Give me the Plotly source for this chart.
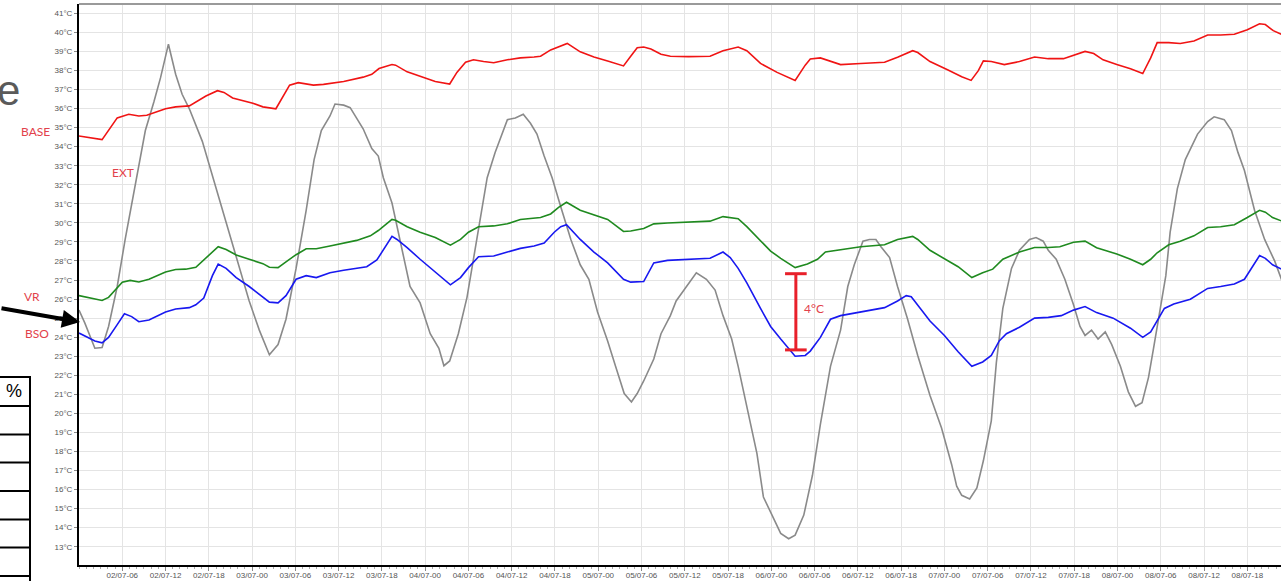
import numpy as np
import pandas as pd
import plotly.graph_objects as go

# Time origin of the record and visible window length (hours)
START = pd.Timestamp("2018-07-02 00:00")
END_H = 166.67

# BASE temperature (°C) against hours from start
base_h = [0, 3.2, 5.3, 6.9, 8.3, 9.4, 12, 13.4, 15.3, 17.6, 19.2, 20.1, 21.3, 24.1, 25.5, 27.3,
          29.2, 30.4, 32.5, 33.9, 36.7, 39.4, 40.6, 41.6, 43.4, 43.9, 45.5, 47.3, 49.4, 51.4,
          52.4, 53.6, 54.7, 56.1, 57.5, 59.4, 61.2, 63.1, 64, 65.4, 66.5, 67.7, 69.5, 71.4,
          73.3, 75.5, 76.5, 77.4, 78.3, 79.3, 80.7, 82, 84.5, 87.5, 89.3, 91.4, 92.6, 94.5,
          96.8, 99.3, 100.7, 101.4, 102.8, 104.2, 105.6, 108.4, 111.7, 113.5, 115.6, 116.3,
          118, 120.5, 122.4, 123.7, 124.7, 125.4, 126.5, 128.3, 130.4, 132.5, 134.4, 136.5,
          137.9, 139.5, 140.7, 142, 143.9, 145.8, 147.5, 148.6, 149.5, 151.1, 152.7, 154.6,
          156.5, 158.3, 160.2, 162, 163.7, 164.5, 165.6, 167.1]
base_t = [34.56, 34.37, 35.51, 35.70, 35.61, 35.65, 35.99, 36.09, 36.14, 36.66, 36.94, 36.85,
          36.56, 36.28, 36.09, 35.99, 37.23, 37.36, 37.23, 37.27, 37.42, 37.65, 37.80, 38.10,
          38.31, 38.28, 37.93, 37.70, 37.42, 37.29, 37.90, 38.43, 38.56, 38.47, 38.41, 38.56,
          38.66, 38.71, 38.75, 39.08, 39.23, 39.42, 38.98, 38.71, 38.50, 38.24, 38.75, 39.19,
          39.23, 39.13, 38.85, 38.75, 38.73, 38.75, 39.04, 39.23, 39.04, 38.37, 37.90, 37.48,
          38.28, 38.60, 38.66, 38.47, 38.31, 38.37, 38.43, 38.70, 39.04, 38.94, 38.47, 38.03,
          37.67, 37.48, 37.99, 38.50, 38.47, 38.31, 38.47, 38.71, 38.62, 38.62, 38.81, 39.00,
          38.89, 38.56, 38.31, 38.09, 37.84, 38.66, 39.46, 39.46, 39.42, 39.55, 39.86, 39.86,
          39.90, 40.14, 40.45, 40.41, 40.09, 39.84]

# VR temperature (°C)
vr_h = [0, 3.2, 4.1, 6.0, 7.1, 8.3, 9.7, 12, 13.4, 14.8, 16.2, 17.6, 19.3, 20.4, 21.8, 23.6,
        25.5, 26.4, 27.6, 28.7, 30.1, 31.5, 32.9, 34.8, 36.7, 38.5, 40.4, 41.5, 43.4, 43.9,
        45.5, 47.3, 49.4, 51.5, 52.9, 54.0, 55.4, 57.5, 59.4, 61.2, 64, 65.4, 66.5, 67.6, 69.5,
        71.4, 73.3, 75.5, 76.5, 78.3, 79.7, 81.6, 83.7, 87.5, 89.3, 91.4, 92.6, 94.5, 95.9,
        97.3, 99.3, 101, 102.4, 103.5, 105.6, 108.4, 111.7, 113.5, 115.6, 116.3, 118, 120,
        121.9, 123.8, 125.3, 126.7, 128.1, 130.4, 132.5, 134.4, 136, 137.9, 139.5, 141.1,
        143.9, 145.8, 147.5, 148.6, 149.5, 151.1, 152.7, 154.6, 156.5, 158.3, 160.2, 162,
        163.7, 164.5, 165.5, 167.1]
vr_t = [26.18, 25.93, 26.09, 26.89, 26.98, 26.90, 27.04, 27.42, 27.55, 27.57, 27.67, 28.18,
        28.75, 28.60, 28.31, 28.09, 27.86, 27.67, 27.65, 27.95, 28.33, 28.64, 28.64, 28.79,
        28.94, 29.08, 29.32, 29.60, 30.18, 30.14, 29.80, 29.51, 29.23, 28.83, 29.13, 29.51,
        29.80, 29.84, 29.95, 30.18, 30.28, 30.47, 30.81, 31.08, 30.66, 30.41, 30.18, 29.55,
        29.57, 29.70, 29.95, 29.99, 30.03, 30.09, 30.33, 30.22, 29.80, 29.04, 28.52, 28.14,
        27.65, 27.84, 28.09, 28.47, 28.60, 28.75, 28.85, 29.13, 29.29, 29.13, 28.56, 28.14,
        27.70, 27.13, 27.38, 27.57, 28.09, 28.47, 28.71, 28.71, 28.75, 28.98, 29.04, 28.70,
        28.37, 28.09, 27.80, 28.09, 28.43, 28.85, 29.04, 29.32, 29.76, 29.80, 29.90, 30.28,
        30.66, 30.56, 30.28, 30.05]

# BSO temperature (°C)
bso_h = [0, 2.2, 3.2, 4.1, 5.3, 6.3, 7.3, 8.3, 9.7, 12, 13.4, 15.3, 16.2, 17.3, 18.5, 19.3,
         20.4, 21.8, 23.6, 25.5, 26.4, 27.6, 28.7, 30.1, 31.5, 32.9, 34.8, 36.7, 38.5, 39.9,
         41.3, 43.4, 44.1, 45.5, 47.3, 49.4, 51.5, 52.9, 54.0, 55.4, 57.5, 59.4, 61.2, 63.1,
         64.5, 65.9, 66.8, 67.6, 69.5, 71.4, 73.3, 75.5, 76.5, 78.3, 79.7, 81.6, 83.7, 87.5,
         89.3, 90.3, 91.4, 92.6, 94.5, 95.9, 97.3, 98.7, 99.3, 100.7, 101.4, 102.8, 104.2,
         105.6, 108.4, 111.7, 113.5, 114.7, 115.4, 116.3, 118, 120, 121.9, 123.8, 125.3,
         126.5, 127.6, 128.6, 130.4, 132.5, 134.4, 136.2, 137.9, 139.5, 141.1, 143.4, 145.8,
         147.5, 148.6, 150.5, 151.8, 154.1, 156.5, 158.3, 160.2, 161.6, 163.7, 164.5, 165.5,
         167.1]
bso_t = [24.22, 23.80, 23.70, 23.99, 24.66, 25.23, 25.08, 24.81, 24.90, 25.32, 25.48, 25.55,
         25.70, 26.05, 27.23, 27.84, 27.61, 27.13, 26.66, 26.09, 25.84, 25.80, 26.18, 27.04,
         27.23, 27.13, 27.38, 27.51, 27.61, 27.70, 28.05, 29.29, 29.13, 28.70, 28.09, 27.42,
         26.75, 27.13, 27.65, 28.22, 28.26, 28.47, 28.66, 28.79, 28.94, 29.51, 29.80, 29.90,
         29.13, 28.47, 27.90, 27.04, 26.89, 26.92, 27.90, 28.03, 28.07, 28.14, 28.47, 28.18,
         27.61, 26.85, 25.51, 24.56, 23.90, 23.23, 23.00, 23.04, 23.27, 23.99, 24.94, 25.13,
         25.32, 25.55, 25.90, 26.18, 26.12, 25.70, 24.85, 24.09, 23.23, 22.47, 22.70, 23.04,
         23.80, 24.18, 24.52, 25.00, 25.04, 25.13, 25.42, 25.61, 25.29, 25.00, 24.47, 23.99,
         24.28, 25.51, 25.74, 25.99, 26.56, 26.66, 26.79, 27.04, 28.28, 28.14, 27.80, 27.51]

# EXT (outdoor) temperature (°C)
ext_h = [0, 0.8, 2.2, 3.2, 4.1, 5.3, 6.4, 7.8, 9.2, 10.4, 11.3, 12.4, 13.4, 14.3, 15.3, 17.1,
         19.0, 20.8, 22.2, 23.6, 25.0, 26.4, 27.6, 28.7, 30.1, 31.5, 32.6, 33.6, 34.8, 35.5,
         36.7, 37.6, 39.4, 40.6, 41.5, 42.2, 43.4, 44.5, 45.9, 47.3, 48.7, 49.9, 50.6, 51.4,
         52.6, 53.8, 55.2, 56.6, 57.7, 59.4, 60.5, 61.6, 62.6, 63.5, 64.5, 65.6, 66.8, 68.2,
         69.5, 70.7, 71.9, 73.3, 74.4, 75.6, 76.6, 77.4, 78.3, 79.7, 80.7, 82, 82.8, 84.2,
         85.6, 87, 88.2, 89.3, 90.5, 91.4, 92.6, 94, 94.9, 96.1, 97.3, 98.4, 99.3, 100.5,
         101.7, 102.8, 104.2, 105.6, 106.6, 107.5, 108.7, 109.6, 110.5, 111.2, 112.4, 113.5,
         114.9, 116.3, 118, 119.6, 121, 121.7, 122.4, 123.5, 124.5, 125.4, 126.5, 127.2,
         128.1, 129.3, 130.4, 131.8, 132.7, 133.7, 134.4, 135.5, 136.7, 137.9, 138.8, 139.5,
         140.4, 141.3, 142.3, 143.2, 144.4, 145.5, 146.5, 147.4, 148.3, 149, 149.7, 150.7,
         151.3, 152.3, 153.4, 155.1, 156.5, 157.4, 158.8, 159.8, 160.7, 161.6, 163, 164.4,
         165.8, 167.1]
ext_t = [25.42, 24.75, 23.42, 23.46, 24.56, 26.66, 29.13, 31.99, 34.85, 36.37, 37.61, 39.38,
         37.80, 36.75, 35.99, 34.28, 31.80, 29.51, 27.61, 25.90, 24.37, 23.08, 23.61, 24.94,
         27.61, 30.66, 33.32, 34.85, 35.61, 36.24, 36.18, 36.05, 34.94, 33.90, 33.51, 32.37,
         31.04, 29.13, 26.66, 25.80, 24.18, 23.42, 22.50, 22.75, 24.18, 26.09, 29.13, 32.37,
         33.70, 35.42, 35.51, 35.70, 35.23, 34.66, 33.51, 32.37, 30.85, 29.13, 27.80, 27.04,
         25.32, 23.80, 22.47, 21.04, 20.60, 21.04, 21.70, 22.85, 24.18, 25.13, 25.90, 26.66,
         27.38, 27.04, 26.47, 25.13, 23.90, 22.47, 20.37, 17.90, 15.61, 14.66, 13.70, 13.42,
         13.61, 14.66, 16.75, 19.42, 22.47, 24.37, 26.66, 27.80, 29.04, 29.13, 29.13, 28.75,
         28.18, 26.66, 24.94, 23.04, 20.94, 19.23, 17.32, 16.18, 15.70, 15.51, 16.09, 17.51,
         19.61, 22.66, 25.51, 27.61, 28.56, 29.13, 29.23, 29.04, 28.56, 28.09, 27.04, 25.70,
         24.56, 24.09, 24.37, 23.90, 24.28, 23.61, 22.47, 21.13, 20.37, 20.56, 21.89, 23.42,
         24.94, 27.23, 29.51, 31.80, 33.32, 34.66, 35.32, 35.57, 35.42, 34.85, 33.70, 32.75,
         30.66, 29.13, 27.99, 26.66]

# Measured VR/BSO gap shown with a bracket
GAP_H = 99.4
GAP_VALUE = 4
GAP_LABEL = "4°C"

# Page geometry (pixels)
W, H = 1281, 581
ML, MR, MT, MB = 79, 0, 4, 16
PW, PH = W - ML - MR, H - MT - MB


def px(x):
    return (x - ML) / PW


def py(y):
    return (H - MB - y) / PH


def stamps(hours):
    return START + pd.to_timedelta(np.asarray(hours, dtype=float), unit="h")


LABEL_RED = "#e2414b"

fig = go.Figure()
series = [
    ("EXT", ext_h, ext_t, "#8a8a8a"),
    ("BASE", base_h, base_t, "#f01414"),
    ("VR", vr_h, vr_t, "#1f8a1f"),
    ("BSO", bso_h, bso_t, "#1818f0"),
]
for name, hh, tt, color in series:
    fig.add_trace(go.Scatter(x=stamps(hh), y=tt, mode="lines", name=name,
                             line=dict(color=color, width=1.6), hoverinfo="skip"))

# Bracket centred between VR and BSO, spanning the labelled gap
vr_at = np.interp(GAP_H, vr_h, vr_t)
bso_at = np.interp(GAP_H, bso_h, bso_t)
mid = (vr_at + bso_at) / 2
lo, hi = mid - GAP_VALUE / 2, mid + GAP_VALUE / 2
gx = stamps([GAP_H - 1.5, GAP_H, GAP_H + 1.5])
shapes = [
    dict(type="line", xref="x", yref="y", x0=gx[1], x1=gx[1], y0=lo, y1=hi,
         line=dict(color="#e8202a", width=3)),
    dict(type="line", xref="x", yref="y", x0=gx[0], x1=gx[2], y0=lo, y1=lo,
         line=dict(color="#e8202a", width=3)),
    dict(type="line", xref="x", yref="y", x0=gx[0], x1=gx[2], y0=hi, y1=hi,
         line=dict(color="#e8202a", width=3)),
    # top frame of the plot area
    dict(type="line", xref="paper", yref="paper", x0=0, x1=1, y0=1, y1=1,
         line=dict(color="#9a9a9a", width=2)),
]

# Side table (percent column)
table_rows = [377, 406, 434.5, 462.5, 491, 519.5, 547.5, 576]
for yy in table_rows:
    shapes.append(dict(type="line", xref="paper", yref="paper", x0=px(0), x1=px(30),
                       y0=py(yy), y1=py(yy), line=dict(color="black", width=2)))
shapes.append(dict(type="line", xref="paper", yref="paper", x0=px(30), x1=px(30),
                   y0=py(376), y1=py(581), line=dict(color="black", width=2)))


def label(text, x, y, size=12, color=LABEL_RED, family="Lato", xanchor="center"):
    return dict(text=text, x=px(x), y=py(y), xref="paper", yref="paper",
                xanchor=xanchor, yanchor="middle", showarrow=False,
                font=dict(family=family, size=size, color=color))


annotations = [
    dict(text=GAP_LABEL, x=stamps([GAP_H + 0.9])[0], y=mid + 0.15, xref="x", yref="y",
         xanchor="left", yanchor="middle", showarrow=False,
         font=dict(family="Lato", size=12, color=LABEL_RED)),
    label("BASE", 35, 131),
    label("EXT", 123, 172),
    label("VR", 32, 296),
    label("BSO", 37, 333),
    label("e", 22, 90, size=42, color="#5a5a5a", family="Liberation Sans", xanchor="right"),
    label("%", 14, 391, size=18, color="black", family="Liberation Sans"),
    dict(text="", x=px(80), y=py(322), xref="paper", yref="paper", showarrow=True,
         ax=-80, ay=-14, arrowhead=2, arrowsize=0.9, arrowwidth=4, arrowcolor="black",
         standoff=0),
]

tick_h = list(range(6, 163, 6))
fig.update_layout(
    width=W, height=H,
    margin=dict(l=ML, r=MR, t=MT, b=MB, autoexpand=False),
    paper_bgcolor="white", plot_bgcolor="white",
    showlegend=False,
    shapes=shapes, annotations=annotations,
    xaxis=dict(
        type="date", range=[stamps([0])[0], stamps([END_H])[0]],
        tickvals=stamps(tick_h), tickformat="%d/%m-%H",
        tickfont=dict(family="Liberation Sans", size=8, color="#555555"),
        ticks="outside", ticklen=4, tickcolor="#888888",
        ticklabelstandoff=-3,
        minor=dict(dtick=3600000, ticks="outside", ticklen=2, tickcolor="#aaaaaa",
                   showgrid=False),
        showgrid=True, gridcolor="#e4e4e4", gridwidth=1,
        showline=True, linecolor="black", linewidth=2,
        zeroline=False, automargin=False,
    ),
    yaxis=dict(
        range=[12.04, 41.49], dtick=1, tick0=0, ticksuffix="°C",
        tickfont=dict(family="Liberation Sans", size=8, color="#555555"),
        ticks="outside", ticklen=3, tickcolor="#888888",
        showgrid=True, gridcolor="#e4e4e4", gridwidth=1,
        showline=True, linecolor="black", linewidth=2,
        zeroline=False, automargin=False,
    ),
)

fig.write_html("out.html")
